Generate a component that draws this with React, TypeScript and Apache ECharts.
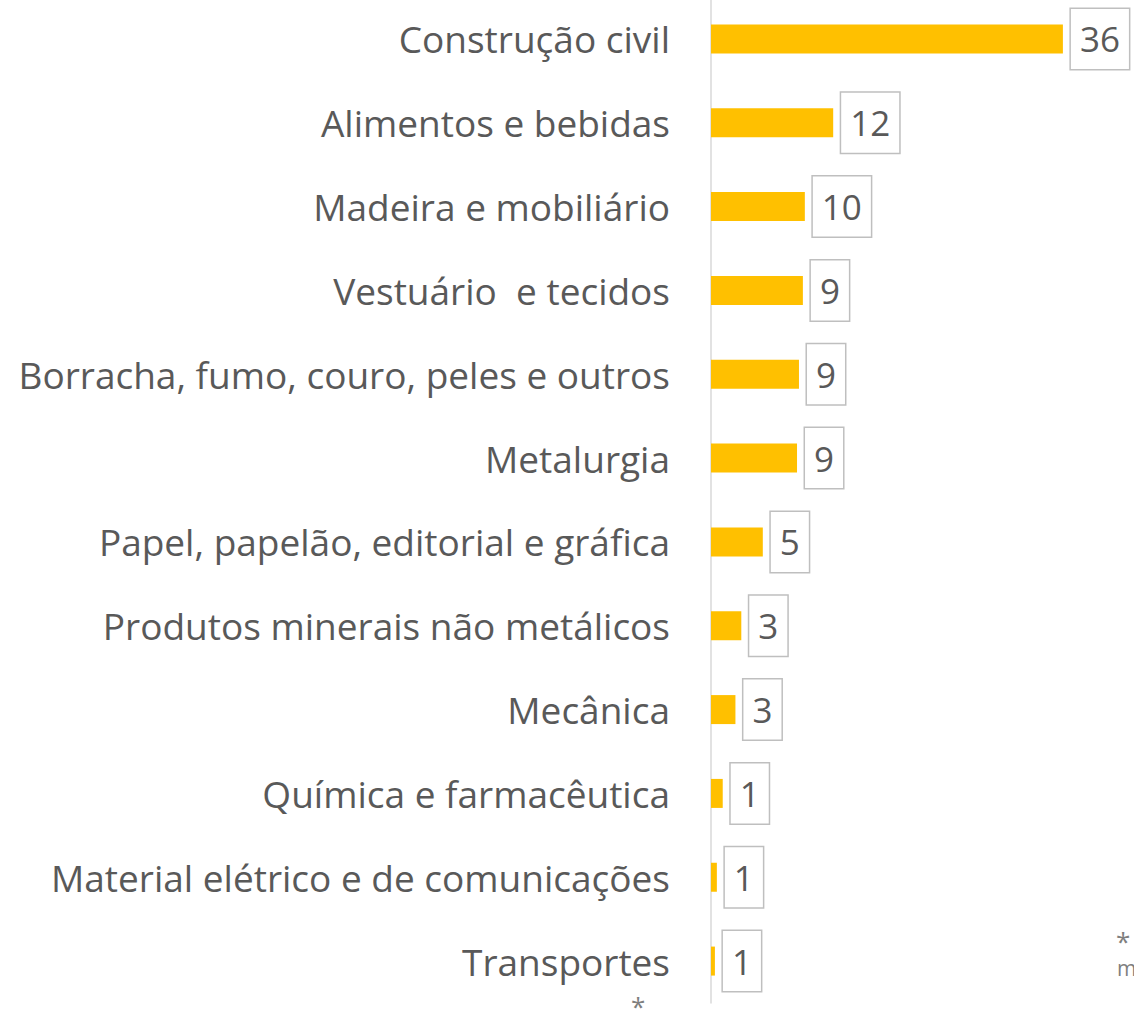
import React, { useEffect, useRef } from "react";
import * as echarts from "echarts";

const categories = [
  "Construção civil",
  "Alimentos e bebidas",
  "Madeira e mobiliário",
  "Vestuário  e tecidos",
  "Borracha, fumo, couro, peles e outros",
  "Metalurgia",
  "Papel, papelão, editorial e gráfica",
  "Produtos minerais não metálicos",
  "Mecânica",
  "Química e farmacêutica",
  "Material elétrico e de comunicações",
  "Transportes",
];
const values = [36, 12.5, 9.6, 9.4, 9.0, 8.8, 5.3, 3.1, 2.5, 1.2, 0.6, 0.4];
const valueLabels = ["36", "12", "10", "9", "9", "9", "5", "3", "3", "1", "1", "1"];

const FONT = "'Open Sans', 'Noto Sans', sans-serif";

export default function App() {
  const ref = useRef<HTMLDivElement>(null);
  useEffect(() => {
    if (!ref.current) return;
    const chart = echarts.init(ref.current, null, { renderer: "svg" });
    chart.setOption({
      animation: false,
      backgroundColor: "#ffffff",
      grid: {
        left: 711,
        top: -3,
        width: 391,
        height: 1006,
        containLabel: false,
        outerBoundsMode: "none",
      },
      xAxis: {
        type: "value",
        min: 0,
        max: 40,
        show: false,
        splitLine: { show: false },
      },
      yAxis: {
        type: "category",
        data: categories,
        inverse: true,
        axisLine: { show: true, lineStyle: { color: "#D9D9D9", width: 1.5 } },
        axisTick: { show: false },
        axisLabel: {
          margin: 41,
          color: "#595959",
          fontSize: 37,
          fontFamily: FONT,
        },
      },
      series: [
        {
          type: "bar",
          data: values,
          barWidth: 29,
          itemStyle: { color: "#FFC000" },
          label: {
            show: true,
            position: "right",
            distance: 8,
            formatter: (p: any) => valueLabels[p.dataIndex],
            color: "#595959",
            fontSize: 35,
            fontFamily: FONT,
            lineHeight: 40,
            backgroundColor: "#ffffff",
            borderColor: "#BFBFBF",
            borderWidth: 1.5,
            padding: [10, 9, 10, 9],
          },
        },
      ],
      graphic: [
        {
          type: "text",
          left: 631,
          top: 993,
          style: { text: "*", fontSize: 26, lineHeight: 26, fill: "#7F7F7F", fontFamily: FONT },
        },
        {
          type: "text",
          left: 1116,
          top: 928,
          style: { text: "*", fontSize: 26, lineHeight: 26, fill: "#7F7F7F", fontFamily: FONT },
        },
        {
          type: "text",
          left: 1117,
          top: 957,
          style: { text: "m", fontSize: 21, lineHeight: 21, fill: "#7F7F7F", fontFamily: FONT },
        },
      ],
    });
    return () => chart.dispose();
  }, []);
  return (
    <div
      ref={ref}
      style={{ position: "absolute", left: 0, top: 0, width: 1134, height: 1013 }}
    />
  );
}
